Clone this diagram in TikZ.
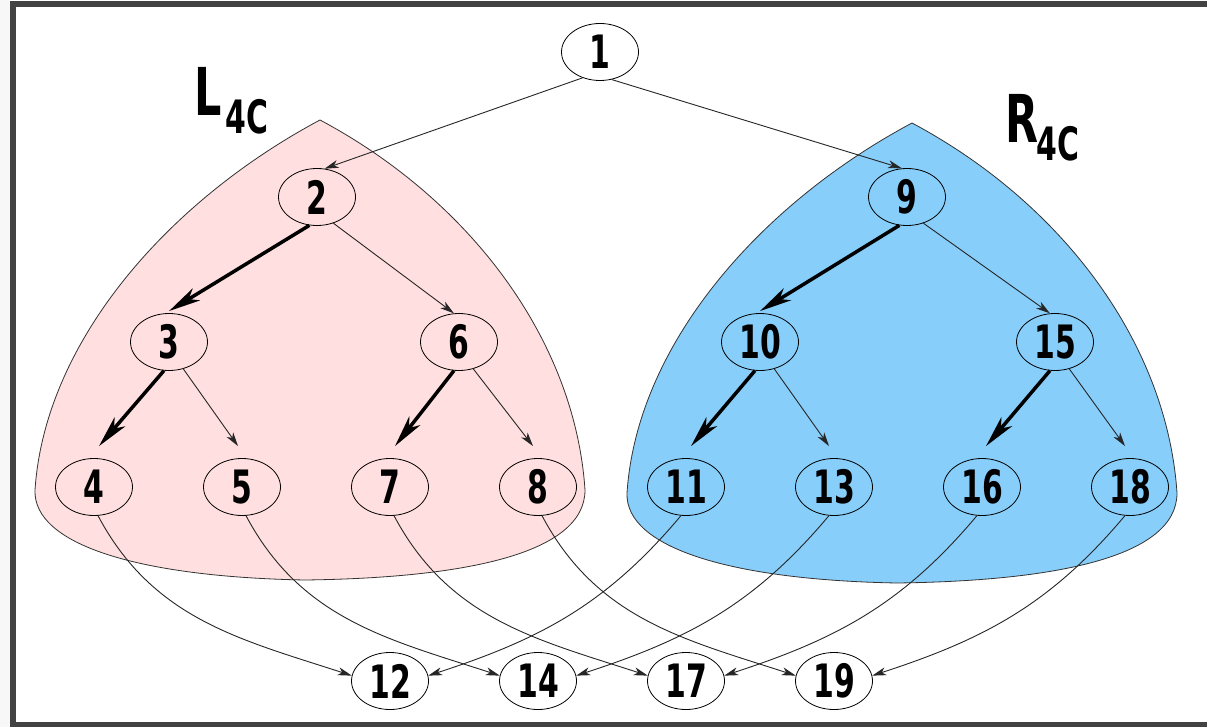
\documentclass[tikz,border=0pt]{standalone}
\usepackage{fontspec}
\newfontfamily\numfont{DejaVu Sans}[FakeStretch=0.65]
\usetikzlibrary{arrows.meta,shapes.geometric}
\definecolor{pinkfill}{HTML}{FFDFDF}
\definecolor{bluefill}{HTML}{87CEFA}
\definecolor{framegray}{HTML}{424242}
\definecolor{outgray}{HTML}{F7F7F7}
\tikzset{
 vertex/.style={ellipse, draw=black, line width=0.8pt, minimum width=77pt, minimum height=57pt, inner sep=0pt, font=\numfont\bfseries\fontsize{46}{46}\selectfont},
 thinarrow/.style={draw=black!85, line width=0.9pt, -{Stealth[length=14pt,width=8pt,inset=4pt]}},
 thickarrow/.style={draw=black, line width=3.5pt, -{Stealth[length=32pt,width=14pt,inset=9pt]}},
 region/.style={draw=black!80, line width=0.8pt},
 biglabel/.style={inner sep=0pt, anchor=base west, font=\numfont\bfseries\fontsize{66}{66}\selectfont},
 sublabel/.style={inner sep=0pt, anchor=base west, font=\numfont\bfseries\fontsize{46}{46}\selectfont},
}
\newcommand\regionshape{(320,-120) .. controls (170,-200) and (45,-340) .. (35,-490)
 .. controls (33,-545) and (140,-577) .. (305,-580)
 .. controls (460,-578) and (585,-555) .. (585,-490)
 .. controls (575,-340) and (470,-200) .. (320,-120) -- cycle}
\begin{document}
\begin{tikzpicture}[x=1pt,y=1pt]
\useasboundingbox (0,0) rectangle (1207,-727);
\clip (0,0) rectangle (1207,-727);
\fill[white] (0,0) rectangle (1207,-727);
\fill[outgray] (0,0) rectangle (10,-727);
\draw[line width=6pt, framegray] (13,-4) rectangle (1240,-725);
% regions
\filldraw[region, fill=pinkfill] \regionshape;
\begin{scope}[shift={(592,-3)}]
\filldraw[region, fill=bluefill] \regionshape;
\end{scope}
% labels
\node[biglabel] (Lbig) at (194,-116) {L};
\node[sublabel] (Lsub) at (225,-134) {4C};
\node[biglabel] (Rbig) at (1005,-143) {R};
\node[sublabel] (Rsub) at (1036,-161) {4C};
% nodes
\node[vertex] (n1) at (600,-52) {1};
\node[vertex] (n2) at (317,-197) {2};
\node[vertex] (n9) at (907,-197) {9};
\node[vertex] (n3) at (169,-342) {3};
\node[vertex] (n6) at (459,-342) {6};
\node[vertex] (n10) at (760,-342) {10};
\node[vertex] (n15) at (1055,-342) {15};
\node[vertex] (n4) at (94,-487) {4};
\node[vertex] (n5) at (242,-487) {5};
\node[vertex] (n7) at (390,-487) {7};
\node[vertex] (n8) at (538,-487) {8};
\node[vertex] (n11) at (686,-487) {11};
\node[vertex] (n13) at (834,-487) {13};
\node[vertex] (n16) at (982,-487) {16};
\node[vertex] (n18) at (1130,-487) {18};
\node[vertex] (n12) at (390,-681) {12};
\node[vertex] (n14) at (538,-681) {14};
\node[vertex] (n17) at (686,-681) {17};
\node[vertex] (n19) at (834,-681) {19};
% top edges
\draw[thinarrow] (n1.-124) -- (n2.75);
\draw[thinarrow] (n1.-67) -- (n9.100);
% level 2 -> 3
\draw[thickarrow] (n2.-105) -- ([yshift=2pt]n3.north);
\draw[thinarrow] (n2.-58) -- (n6.100);
\draw[thickarrow] (n9.-105) -- ([yshift=2pt]n10.north);
\draw[thinarrow] (n9.-58) -- (n15.100);
% level 3 -> 4
\draw[thickarrow] (n3.-100) -- ([shift={(5pt,12pt)}]n4.north);
\draw[thinarrow] (n3.-62) -- ([shift={(-4pt,12pt)}]n5.north);
\draw[thickarrow] (n6.-100) -- ([shift={(5pt,12pt)}]n7.north);
\draw[thinarrow] (n6.-62) -- ([shift={(-5pt,12pt)}]n8.north);
\draw[thickarrow] (n10.-100) -- ([shift={(5pt,12pt)}]n11.north);
\draw[thinarrow] (n10.-62) -- ([shift={(-5pt,12pt)}]n13.north);
\draw[thickarrow] (n15.-100) -- ([shift={(4pt,12pt)}]n16.north);
\draw[thinarrow] (n15.-62) -- ([shift={(-5pt,12pt)}]n18.north);
% cross edges
\draw[thinarrow] (n4.-82) to[out=-62,in=162] (n12.172);
\draw[thinarrow] (n5.-82) to[out=-62,in=162] (n14.172);
\draw[thinarrow] (n7.-82) to[out=-62,in=162] (n17.172);
\draw[thinarrow] (n8.-82) to[out=-62,in=162] (n19.172);
\draw[thinarrow] (n11.-100) to[out=-130,in=18] (n12.8);
\draw[thinarrow] (n13.-100) to[out=-130,in=18] (n14.8);
\draw[thinarrow] (n16.-100) to[out=-130,in=18] (n17.8);
\draw[thinarrow] (n18.-100) to[out=-130,in=18] (n19.8);
\end{tikzpicture}
\end{document}
